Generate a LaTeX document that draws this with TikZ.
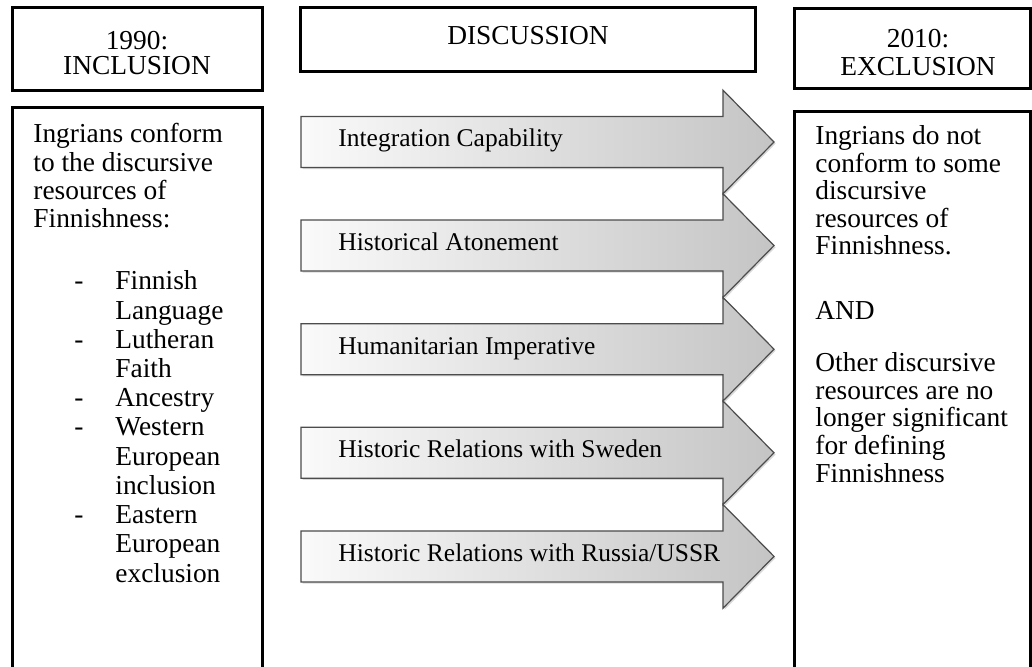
\documentclass[tikz,border=0pt]{standalone}
\usepackage{fontspec}
\setmainfont{Liberation Serif}
\usetikzlibrary{shadows}

\begin{document}
\begin{tikzpicture}[x=0.5pt,y=-0.5pt,
    frame/.style={draw,line width=1.5pt},
    txt/.style={anchor=base west,inner sep=0pt,font=\fontsize{13.7pt}{14.5pt}\selectfont},
    hdr/.style={txt,anchor=base},
    arr/.style={draw=black!70,line width=0.6pt,left color=black!2,right color=black!23,
        drop shadow={shadow xshift=0.8pt,shadow yshift=-0.8pt,opacity=0.3}},
    arrtxt/.style={anchor=base west,inner sep=0pt,font=\fontsize{12.75pt}{14pt}\selectfont}]
    \clip (0,0) rectangle (1032,667);
    % headers
    \draw[frame] (12,8) rectangle (262,91);
    \node[hdr] (incA) at (137,50) {1990:};
    \node[hdr] (incB) at (137,75) {INCLUSION};
    \draw[frame] (300,8) rectangle (755,72);
    \node[hdr] (disc) at (528,45) {DISCUSSION};
    \draw[frame] (794,9) rectangle (1030,89);
    \node[hdr] (excA) at (918,48) {2010:};
    \node[hdr] (excB) at (918,76) {EXCLUSION};
    % columns
    \draw[frame] (12,108) rectangle (262,700);
    \draw[frame] (794,112) rectangle (1030,700);
    % 1990 column
    \foreach \t/\yy [count=\i] in {Ingrians conform/143,to the discursive/172,resources of/200,Finnishness:/228}
        \node[txt] (l\i) at (33,\yy) {\t};
    \foreach \t [count=\i from 0] in {Finnish,Language,Lutheran,Faith,Ancestry,Western,European,inclusion,Eastern,European,exclusion}
        \node[txt] (li\i) at (115,290+29.2*\i) {\t};
    \foreach \k in {0,2,4,5,8}
        \node[txt] (d\k) at (74,290+29.2*\k) {-};
    % discussion arrows
    \foreach \lbl [count=\i from 0] in {Integration Capability,Historical Atonement,Humanitarian Imperative,Historic Relations with Sweden,Historic Relations with Russia/USSR} {
        \pgfmathsetmacro\yc{142+103.6*\i}
        \path[arr] (301,\yc-25.5) -- (723,\yc-25.5) -- (723,\yc-51.8) -- (774,\yc)
            -- (723,\yc+51.8) -- (723,\yc+25.5) -- (301,\yc+25.5) -- cycle;
        \node[arrtxt] (a\i) at (338,\yc+5) {\lbl};
    }
    % 2010 column
    \foreach \t [count=\i from 0] in {Ingrians do not,conform to some,discursive,resources of,Finnishness.}
        \node[txt] (r\i) at (815,145+27.5*\i) {\t};
    \node[txt] (and) at (815,320) {AND};
    \foreach \t [count=\i from 0] in {Other discursive,resources are no,longer significant,for defining,Finnishness}
        \node[txt] (s\i) at (815,372+27.5*\i) {\t};
\end{tikzpicture}
\end{document}
